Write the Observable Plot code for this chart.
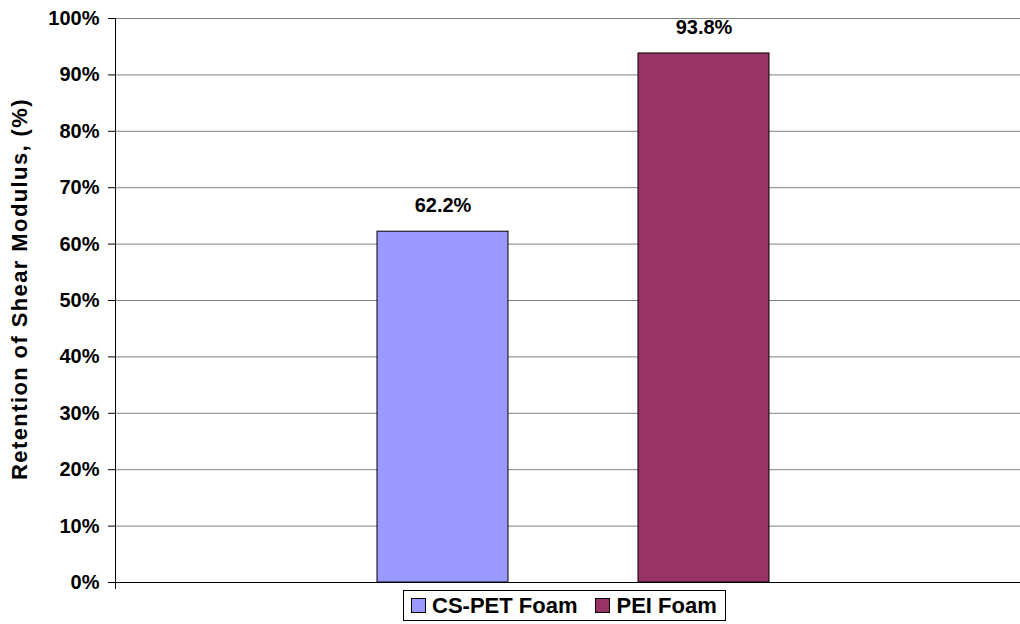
<!DOCTYPE html>
<html>
<head>
<meta charset="utf-8">
<script src="https://cdn.jsdelivr.net/npm/d3@7"></script>
<script src="https://cdn.jsdelivr.net/npm/@observablehq/plot@0.6"></script>
<style>
  html, body { margin: 0; padding: 0; background: #fff; }
  body { width: 1020px; height: 624px; position: relative; overflow: hidden;
         font-family: "Liberation Sans", Arial, sans-serif; }
  #chart { position: absolute; left: 0; top: 0; }
  #legend { position: absolute; left: 403px; top: 590px; height: 31px;
            border: 1px solid #000; box-sizing: border-box; display: flex; align-items: center;
            padding: 0 8px 0 7px; font-weight: bold; font-size: 22px; color: #000; background: #fff; }
  #legend .sw { width: 13px; height: 13px; border: 1px solid #000; display: inline-block;
                margin-right: 6px; }
  #legend .item { display: flex; align-items: center; margin-right: 18px; }
  #legend .item:last-child { margin-right: 0; }
</style>
</head>
<body>
<div id="chart"></div>
<div id="legend"></div>
<script>
// Retention of shear modulus for each foam
const series = ["CS-PET Foam", "PEI Foam"];
const retention = [0.622, 0.938];
const colors = ["#9999FF", "#993366"];
const yTicks = [0, 0.1, 0.2, 0.3, 0.4, 0.5, 0.6, 0.7, 0.8, 0.9, 1.0];

const data = series.map((name, i) => ({name, value: retention[i]}));
const pct = d => `${Math.round(d * 100)}%`;
const font = "Liberation Sans, Arial, sans-serif";

const chart = Plot.plot({
  width: 1020,
  height: 596,
  marginLeft: 115,
  marginRight: 0,
  marginTop: 18,
  marginBottom: 14,
  style: {fontFamily: font, fontSize: "20px", fontWeight: "bold", color: "#000", background: "#fff"},
  x: {domain: series, range: [377, 769], paddingInner: 130 / 261, paddingOuter: 0, axis: null},
  y: {domain: [0, 1], ticks: yTicks, tickFormat: pct, label: null},
  color: {domain: series, range: colors},
  marks: [
    Plot.ruleY(yTicks.filter(t => t > 0), {stroke: "#808080", strokeWidth: 1}),
    Plot.axisY({ticks: yTicks, tickFormat: pct, tickSize: 7, tickPadding: 9,
                stroke: "#000", fontSize: 20, fontWeight: "bold", label: null}),
    Plot.barY(data, {x: "name", y: "value", fill: "name", stroke: "#000", strokeWidth: 1}),
    Plot.ruleY([0], {stroke: "#000", strokeWidth: 1}),
    Plot.text(data, {x: "name", y: "value", text: d => `${(d.value * 100).toFixed(1)}%`,
                     dy: -26, fontSize: 20, fontWeight: "bold", fill: "#000"})
  ]
});
document.getElementById("chart").appendChild(chart);

const svg = d3.select(chart);
const yScale = chart.scale("y");

// Vertical axis line, extending a little below the baseline
svg.append("line")
  .attr("x1", 115.5).attr("x2", 115.5)
  .attr("y1", yScale.apply(1)).attr("y2", yScale.apply(0) + 7)
  .attr("stroke", "#000").attr("stroke-width", 1);

// Rotated y-axis title
svg.append("text")
  .attr("transform", `translate(27,${(yScale.apply(0) + yScale.apply(1)) / 2 - 11}) rotate(-90)`)
  .attr("text-anchor", "middle")
  .attr("font-size", 22).attr("font-weight", "bold")
  .attr("letter-spacing", "1.4px")
  .attr("fill", "#000")
  .text("Retention of Shear Modulus, (%)");

// Legend below the plot
const legend = d3.select("#legend");
series.forEach((name, i) => {
  const item = legend.append("span").attr("class", "item");
  item.append("span").attr("class", "sw").style("background", colors[i]);
  item.append("span").text(name);
});
</script>
</body>
</html>
